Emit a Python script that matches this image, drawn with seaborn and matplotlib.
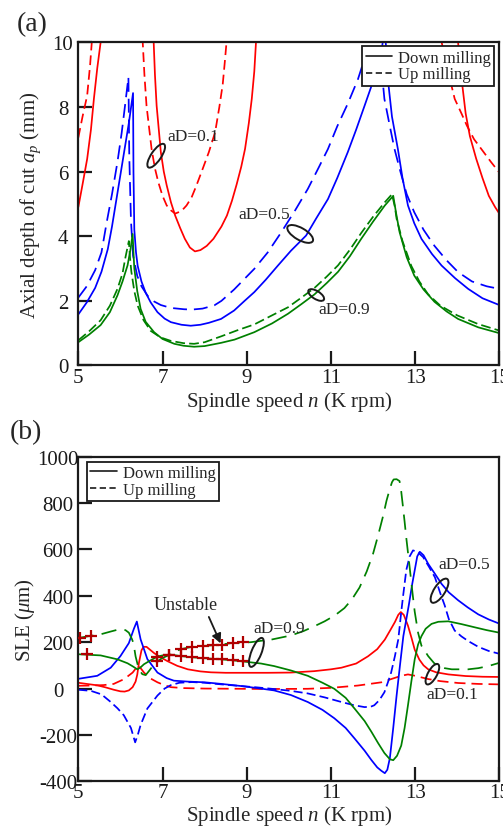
import numpy as np
import pandas as pd
import seaborn as sns
import matplotlib
matplotlib.use("Agg")
import matplotlib.pyplot as plt
from matplotlib.patches import Ellipse
from matplotlib.transforms import ScaledTranslation
from matplotlib.lines import Line2D

# ---------------- data: panel (a) stability lobes (x = K rpm, y = mm) ----------------
a_red_down_1 = [(5.0, 4.9), (5.1, 5.6), (5.21, 6.39), (5.3, 7.3), (5.37, 8.25), (5.45, 9.2), (5.53, 10.0), (5.58, 10.6)]
a_red_down_2 = [(6.76, 10.6), (6.79, 10.0), (6.82, 9.0), (6.86, 8.04), (6.96, 6.6), (7.03, 6.0), (7.1, 5.57), (7.2, 5.05),
                (7.3, 4.64), (7.42, 4.25), (7.53, 3.92), (7.65, 3.65), (7.77, 3.53), (7.9, 3.57), (8.05, 3.7), (8.21, 3.92),
                (8.4, 4.3), (8.53, 4.64), (8.65, 5.1), (8.76, 5.6), (8.87, 6.15), (8.96, 6.7), (9.05, 7.5), (9.12, 8.25),
                (9.18, 9.1), (9.22, 10.0), (9.25, 10.6)]
a_red_down_3 = [(13.99, 10.6), (14.02, 10.0), (14.1, 8.9), (14.2, 7.8), (14.3, 7.1), (14.45, 6.4), (14.6, 5.8),
                (14.75, 5.25), (14.9, 4.9), (15.0, 4.7)]
a_red_up_1 = [(5.0, 7.05), (5.1, 7.7), (5.21, 8.35), (5.28, 9.3), (5.32, 10.0), (5.35, 10.6)]
a_red_up_2 = [(6.5, 10.6), (6.53, 10.0), (6.57, 9.0), (6.62, 8.04), (6.74, 6.7), (6.82, 6.1), (6.9, 5.67), (7.0, 5.25),
              (7.1, 4.95), (7.2, 4.8), (7.3, 4.7), (7.34, 4.72), (7.45, 4.78), (7.57, 4.95), (7.69, 5.2), (7.8, 5.55),
              (7.93, 6.0), (8.1, 6.6), (8.25, 7.22), (8.35, 8.0), (8.43, 8.7), (8.48, 9.4), (8.52, 10.0), (8.55, 10.6)]
a_red_up_3 = [(13.6, 10.6), (13.63, 10.0), (13.8, 9.0), (13.94, 8.25), (14.1, 7.8), (14.23, 7.42), (14.4, 7.0),
              (14.6, 6.65), (14.8, 6.3), (15.0, 5.97)]
a_blue_down = [(5.0, 1.58), (5.2, 1.95), (5.4, 2.4), (5.55, 2.9), (5.7, 3.6), (5.8, 4.3), (5.9, 5.1), (6.0, 5.9),
               (6.1, 6.7), (6.2, 7.5), (6.3, 8.43), (6.31, 6.0), (6.33, 4.2), (6.37, 3.5), (6.41, 3.08), (6.5, 2.6),
               (6.6, 2.25), (6.72, 1.95), (6.88, 1.65), (7.05, 1.45), (7.2, 1.34), (7.45, 1.26), (7.67, 1.23),
               (7.9, 1.26), (8.1, 1.32), (8.39, 1.44), (8.7, 1.7), (8.95, 2.0), (9.18, 2.27), (9.45, 2.65), (9.74, 3.09),
               (10.05, 3.55), (10.41, 4.02), (10.65, 4.55), (10.93, 5.15), (11.15, 5.8), (11.4, 6.6), (11.6, 7.3),
               (11.8, 8.04), (11.95, 8.6), (12.12, 9.28), (12.22, 9.9), (12.27, 10.4), (12.33, 9.6), (12.36, 8.77),
               (12.45, 7.7), (12.59, 6.7), (12.7, 5.8), (12.83, 4.95), (12.98, 4.4), (13.15, 3.92), (13.4, 3.45),
               (13.63, 3.09), (13.95, 2.7), (14.26, 2.37), (14.6, 2.08), (15.0, 1.87)]
a_blue_up = [(5.0, 2.1), (5.2, 2.45), (5.4, 2.95), (5.55, 3.5), (5.67, 4.4), (5.8, 5.3), (5.93, 6.3), (6.03, 7.2),
             (6.1, 7.94), (6.19, 8.92), (6.21, 6.5), (6.25, 4.5), (6.3, 3.4), (6.4, 2.77), (6.5, 2.45), (6.65, 2.15),
             (6.8, 1.98), (6.96, 1.87), (7.2, 1.78), (7.51, 1.74), (7.7, 1.73), (7.95, 1.76), (8.23, 1.86), (8.4, 2.0),
             (8.7, 2.35), (9.0, 2.75), (9.18, 2.99), (9.5, 3.5), (9.82, 4.12), (10.15, 4.8), (10.45, 5.46),
             (10.7, 6.1), (10.93, 6.7), (11.15, 7.4), (11.4, 8.1), (11.64, 8.85), (11.8, 9.5), (11.92, 10.0),
             (12.08, 10.6), (12.18, 9.5), (12.27, 8.25), (12.4, 7.4), (12.51, 6.7), (12.65, 6.0), (12.8, 5.3),
             (12.98, 4.74), (13.2, 4.2), (13.46, 3.7), (13.75, 3.25), (14.02, 2.89), (14.35, 2.6), (14.7, 2.45),
             (15.0, 2.37)]
a_green_down = [(5.0, 0.72), (5.25, 0.95), (5.53, 1.25), (5.75, 1.65), (5.93, 2.17), (6.05, 2.6), (6.17, 3.1),
                (6.24, 3.6), (6.29, 4.07), (6.31, 3.5), (6.33, 3.0), (6.4, 2.3), (6.48, 1.75), (6.6, 1.35), (6.8, 1.03),
                (7.0, 0.82), (7.28, 0.67), (7.5, 0.61), (7.75, 0.58), (8.0, 0.6), (8.39, 0.7), (8.71, 0.8), (9.18, 1.03),
                (9.6, 1.3), (9.98, 1.6), (10.3, 1.9), (10.61, 2.2), (10.9, 2.55), (11.17, 2.9), (11.45, 3.38),
                (11.72, 3.92), (12.0, 4.45), (12.28, 4.95), (12.48, 5.25), (12.55, 4.7), (12.63, 4.13), (12.8, 3.35),
                (12.98, 2.78), (13.2, 2.35), (13.46, 1.97), (13.75, 1.67), (14.02, 1.44), (14.5, 1.18), (15.0, 1.0)]
a_green_up = [(5.0, 0.78), (5.25, 1.05), (5.53, 1.4), (5.75, 1.85), (5.93, 2.37), (6.05, 2.85), (6.12, 3.35),
              (6.2, 3.85), (6.23, 3.3), (6.26, 2.9), (6.33, 2.3), (6.41, 1.85), (6.55, 1.4), (6.72, 1.07), (6.95, 0.87),
              (7.2, 0.76), (7.5, 0.69), (7.75, 0.67), (8.0, 0.72), (8.39, 0.9), (8.8, 1.1), (9.18, 1.27), (9.6, 1.55),
              (9.98, 1.8), (10.3, 2.1), (10.61, 2.4), (10.9, 2.75), (11.17, 3.1), (11.45, 3.58), (11.72, 4.1),
              (12.0, 4.6), (12.28, 5.05), (12.45, 5.3), (12.52, 4.9), (12.56, 4.54), (12.7, 3.85), (12.91, 3.08),
              (13.1, 2.6), (13.31, 2.2), (13.6, 1.85), (14.0, 1.55), (14.5, 1.28), (15.0, 1.08)]

# ---------------- data: panel (b) SLE (x = K rpm, y = um) ----------------
b_red_down = [(5.0, 25), (5.2, 20), (5.45, 14), (5.65, 5), (5.84, -5), (6.0, -12), (6.1, -13), (6.2, -8), (6.29, 6),
              (6.36, 30), (6.4, 60), (6.44, 111), (6.5, 165), (6.55, 180), (6.62, 180), (6.7, 168), (6.8, 153),
              (6.95, 135), (7.12, 118), (7.35, 98), (7.6, 83), (7.9, 74), (8.15, 70), (8.5, 68), (8.86, 68), (9.5, 68),
              (10.05, 69), (10.6, 75), (11.0, 83), (11.25, 90), (11.6, 108), (11.88, 139), (12.1, 170), (12.28, 211),
              (12.42, 255), (12.52, 287), (12.6, 318), (12.66, 330), (12.73, 318), (12.83, 271), (12.92, 215),
              (12.99, 168), (13.1, 125), (13.2, 100), (13.31, 83), (13.5, 70), (13.79, 61), (14.2, 54), (14.6, 51),
              (15.0, 50)]
b_red_up = [(5.0, 12), (5.3, 13), (5.6, 15), (5.84, 20), (6.09, 41), (6.29, 69), (6.38, 90), (6.43, 100), (6.48, 88),
            (6.56, 69), (6.7, 45), (6.88, 27), (7.05, 14), (7.2, 6), (7.5, 2), (8.0, 0), (8.86, -1), (9.5, -2),
            (10.45, -1), (11.0, 3), (11.64, 13), (12.0, 22), (12.2, 27), (12.45, 42), (12.67, 55), (12.83, 61),
            (13.0, 55), (13.31, 41), (13.6, 32), (14.02, 24), (14.5, 20), (15.0, 18)]
b_blue_down = [(5.0, 42), (5.45, 55), (5.77, 90), (6.0, 140), (6.2, 196), (6.32, 258), (6.39, 289), (6.48, 212),
               (6.64, 127), (6.88, 69), (7.1, 45), (7.27, 34), (7.6, 30), (8.0, 27), (8.4, 20), (8.86, 11), (9.25, 2),
               (9.65, -8), (10.05, -28), (10.45, -58), (10.8, -92), (11.08, -128), (11.35, -170), (11.56, -215),
               (11.8, -268), (11.96, -308), (12.1, -340), (12.2, -355), (12.28, -365), (12.34, -350), (12.4, -300),
               (12.48, -170), (12.56, -30), (12.64, 100), (12.72, 226), (12.85, 360), (12.93, 450), (13.0, 520),
               (13.05, 570), (13.11, 590), (13.2, 575), (13.31, 538), (13.47, 495), (13.63, 451), (13.8, 415),
               (14.02, 381), (14.25, 350), (14.5, 320), (14.75, 298), (15.0, 280)]
b_blue_up = [(5.0, -5), (5.3, -10), (5.55, -25), (5.77, -58), (5.93, -85), (6.08, -115), (6.25, -170), (6.35, -232),
             (6.42, -195), (6.48, -157), (6.64, -86), (6.88, -30), (7.05, 0), (7.2, 15), (7.4, 25), (7.7, 28),
             (8.0, 25), (8.4, 18), (8.86, 11), (9.25, 5), (9.65, -2), (10.05, -10), (10.45, -21), (10.85, -38),
             (11.25, -58), (11.55, -72), (11.8, -80), (11.95, -78), (12.03, -72), (12.15, -50), (12.27, -16),
             (12.35, 25), (12.43, 69), (12.52, 140), (12.6, 212), (12.67, 330), (12.71, 393), (12.79, 511),
             (12.87, 570), (12.95, 596), (13.05, 590), (13.19, 567), (13.33, 525), (13.47, 480), (13.6, 410),
             (13.7, 360), (13.8, 300), (13.94, 250), (14.1, 225), (14.26, 205), (14.5, 180), (14.75, 162), (15.0, 150)]
b_green_down = [(5.0, 148), (5.53, 143), (5.93, 126), (6.17, 109), (6.3, 95), (6.4, 83), (6.47, 90), (6.56, 105),
                (6.7, 120), (6.88, 138), (7.05, 145), (7.2, 146), (7.44, 140), (7.7, 135), (7.91, 132), (8.15, 129),
                (8.39, 126), (8.65, 122), (8.86, 118), (9.1, 113), (9.34, 108), (9.65, 97), (10.05, 78), (10.45, 55),
                (10.8, 25), (11.08, -1), (11.35, -40), (11.56, -86), (11.8, -140), (11.96, -186), (12.12, -235),
                (12.27, -278), (12.4, -305), (12.48, -309), (12.57, -290), (12.67, -246), (12.75, -170), (12.83, -72),
                (12.91, 30), (12.99, 126), (13.07, 190), (13.15, 226), (13.25, 258), (13.39, 279), (13.55, 288),
                (13.79, 290), (14.1, 278), (14.42, 264), (14.7, 252), (15.0, 241)]
b_green_up = [(5.0, 218), (5.25, 226), (5.53, 234), (5.77, 246), (6.0, 257), (6.12, 252), (6.2, 241), (6.27, 215),
              (6.31, 196), (6.36, 139), (6.4, 110), (6.44, 83), (6.52, 62), (6.6, 58), (6.68, 76), (6.78, 100),
              (6.88, 118), (7.0, 132), (7.16, 145), (7.3, 160), (7.44, 170), (7.67, 179), (7.9, 183), (8.15, 186),
              (8.4, 190), (8.63, 196), (8.86, 198), (9.1, 200), (9.34, 206), (9.58, 211), (10.05, 229), (10.35, 248),
              (10.61, 269), (10.85, 290), (11.09, 315), (11.32, 347), (11.5, 385), (11.68, 436), (11.85, 505),
              (12.0, 581), (12.12, 660), (12.24, 745), (12.32, 810), (12.4, 862), (12.45, 890), (12.49, 902),
              (12.56, 903), (12.63, 895), (12.67, 850), (12.71, 786), (12.75, 720), (12.79, 650), (12.87, 523),
              (12.95, 393), (12.99, 332), (13.07, 241), (13.15, 185), (13.31, 140), (13.45, 110), (13.55, 97),
              (13.7, 88), (13.87, 83), (14.26, 83), (14.5, 88), (14.74, 97), (15.0, 111)]
unstable_up_x = [5.05, 5.29, 6.88, 7.16, 7.44, 7.71, 7.95, 8.19, 8.42, 8.67, 8.9]
unstable_up_y = [220, 225, 118, 145, 170, 180, 183, 186, 190, 196, 199]
unstable_down_x = [5.21, 6.88, 7.16, 7.44, 7.71, 7.95, 8.19, 8.42, 8.67, 8.9]
unstable_down_y = [147, 138, 145, 140, 135, 132, 129, 126, 122, 118]

x_ticks = [5, 7, 9, 11, 13, 15]
a_y_ticks = [0, 2, 4, 6, 8, 10]
b_y_ticks = [-400, -200, 0, 200, 400, 600, 800, 1000]
legend_labels = ["Down milling", "Up milling"]

# ---------------- style ----------------
sns.set_theme(style="ticks")
plt.rcParams["font.family"] = ["Liberation Serif", "DejaVu Serif"]
plt.rcParams["mathtext.fontset"] = "custom"
plt.rcParams["mathtext.rm"] = "Liberation Serif"
plt.rcParams["mathtext.it"] = "Liberation Serif:italic"
plt.rcParams["axes.unicode_minus"] = False
plt.rcParams["lines.scale_dashes"] = False

RED, BLUE, GREEN = "#ff0000", "#0000ff", "#008000"
LW = 1.25
TICK_FS = 15
LABEL_FS = 15
ANN_FS = 12.5

fig = plt.figure(figsize=(5.03, 8.28), dpi=100)
ax_a = fig.add_axes([0.1557, 0.5574, 0.8370, 0.3903])
ax_b = fig.add_axes([0.1557, 0.0552, 0.8370, 0.3920])


def draw(ax, pts, color, ls):
    df = pd.DataFrame(pts, columns=["x", "y"])
    sns.lineplot(data=df, x="x", y="y", ax=ax, color=color, linestyle=ls, lw=LW,
                 sort=False, estimator=None, legend=False)


def ring(ax, x, y, w, h, ang):
    tr = fig.dpi_scale_trans + ScaledTranslation(x, y, ax.transData)
    ax.add_patch(Ellipse((0, 0), w / 100, h / 100, angle=ang, transform=tr,
                         fill=False, ec="k", lw=1.4, zorder=6, clip_on=False))


def style_axes(ax, yticks, ylim, ypad):
    ax.set_xlim(5, 15)
    ax.set_ylim(*ylim)
    ax.set_xticks(x_ticks)
    ax.set_yticks(yticks)
    ax.set_yticklabels([str(t) for t in yticks])
    ax.tick_params(direction="in", length=10, width=1.6, labelsize=TICK_FS,
                   top=False, right=False, colors="k")
    ax.tick_params(axis="x", pad=1.5)
    ax.tick_params(axis="y", pad=ypad)
    for lab in ax.get_yticklabels():
        lab.set_horizontalalignment("center")
    for s in ax.spines.values():
        s.set_linewidth(1.6)
        s.set_color("k")


# ---- panel (a)
for seg in (a_red_down_1, a_red_down_2, a_red_down_3):
    draw(ax_a, seg, RED, "-")
for seg in (a_red_up_1, a_red_up_2, a_red_up_3):
    draw(ax_a, seg, RED, (0, (7, 3.6)))
draw(ax_a, a_blue_down, BLUE, "-")
draw(ax_a, a_blue_up, BLUE, (0, (10, 5)))
draw(ax_a, a_green_down, GREEN, "-")
draw(ax_a, a_green_up, GREEN, (0, (7, 3)))
style_axes(ax_a, a_y_ticks, (0, 10), 11)
ax_a.set_xlabel("Spindle speed $n$ (K rpm)", fontsize=LABEL_FS)
ax_a.set_ylabel("Axial depth of cut $a_p$ (mm)", fontsize=LABEL_FS)
ax_a.xaxis.set_label_coords(0.5, -0.125)
ax_a.xaxis.label.set_va("baseline")
ax_a.yaxis.set_label_coords(-0.083, 0.5)

ax_a.text(7.11, 7.1, "aD=0.1", fontsize=ANN_FS, ha="left", va="center")
ax_a.text(8.8, 4.69, "aD=0.5", fontsize=ANN_FS, ha="left", va="center")
ax_a.text(10.7, 1.75, "aD=0.9", fontsize=ANN_FS, ha="left", va="center")
ring(ax_a, 6.85, 6.49, 28, 10, 56)
ring(ax_a, 10.27, 4.07, 29, 12, -30)
ring(ax_a, 10.65, 2.18, 18, 8, -32)

handles = [Line2D([], [], color="k", lw=1.2, ls="-"),
           Line2D([], [], color="k", lw=1.2, ls=(0, (4.5, 2.5)))]
leg = ax_a.legend(handles, legend_labels, loc="upper right", bbox_to_anchor=(0.988, 0.988),
                  fontsize=12, frameon=True, fancybox=False, edgecolor="k", framealpha=1,
                  handlelength=1.6, handletextpad=0.35, borderpad=0.2, labelspacing=0.05,
                  borderaxespad=0)
leg.get_frame().set_linewidth(1.3)

# ---- panel (b)
draw(ax_b, b_red_down, RED, "-")
draw(ax_b, b_red_up, RED, (0, (8, 4.3)))
draw(ax_b, b_blue_down, BLUE, "-")
draw(ax_b, b_blue_up, BLUE, (0, (6.5, 3)))
draw(ax_b, b_green_down, GREEN, "-")
draw(ax_b, b_green_up, GREEN, (0, (11, 6)))
sns.scatterplot(x=unstable_up_x, y=unstable_up_y, ax=ax_b, marker="+", s=80, color="#b00000",
                linewidth=1.6, zorder=5, legend=False)
sns.scatterplot(x=unstable_down_x, y=unstable_down_y, ax=ax_b, marker="+", s=80, color="#b00000",
                linewidth=1.6, zorder=5, legend=False)
style_axes(ax_b, b_y_ticks, (-400, 1000), 14.5)
ax_b.set_xlabel("Spindle speed $n$ (K rpm)", fontsize=LABEL_FS)
ax_b.set_ylabel("SLE ($\\mu$m)", fontsize=LABEL_FS)
ax_b.xaxis.set_label_coords(0.5, -0.119)
ax_b.xaxis.label.set_va("baseline")
ax_b.yaxis.set_label_coords(-0.097, 0.5)

ax_b.text(7.55, 362, "Unstable", fontsize=13, ha="center", va="center")
ax_b.annotate("", xy=(8.38, 195), xytext=(8.1, 309),
              arrowprops=dict(arrowstyle="-|>", color="k", lw=1.3, mutation_scale=14, shrinkA=0, shrinkB=0))
ax_b.text(9.16, 262, "aD=0.9", fontsize=ANN_FS, ha="left", va="center")
ax_b.text(13.56, 537, "aD=0.5", fontsize=ANN_FS, ha="left", va="center")
ax_b.text(13.27, -25, "aD=0.1", fontsize=ANN_FS, ha="left", va="center")
ring(ax_b, 9.23, 156, 31, 10, 68)
ring(ax_b, 13.58, 422, 28, 11, 57)
ring(ax_b, 13.41, 62, 23, 9, 61)

leg2 = ax_b.legend(handles, legend_labels, loc="upper left", bbox_to_anchor=(0.02, 0.985),
                   fontsize=12, frameon=True, fancybox=False, edgecolor="k", framealpha=1,
                   handlelength=1.6, handletextpad=0.35, borderpad=0.2, labelspacing=0.05,
                   borderaxespad=0)
leg2.get_frame().set_linewidth(1.3)

fig.text(0.034, 0.970, "(a)", fontsize=20, ha="left", va="center")
fig.text(0.020, 0.477, "(b)", fontsize=20, ha="left", va="center")

fig.savefig("out.png", dpi=100)
